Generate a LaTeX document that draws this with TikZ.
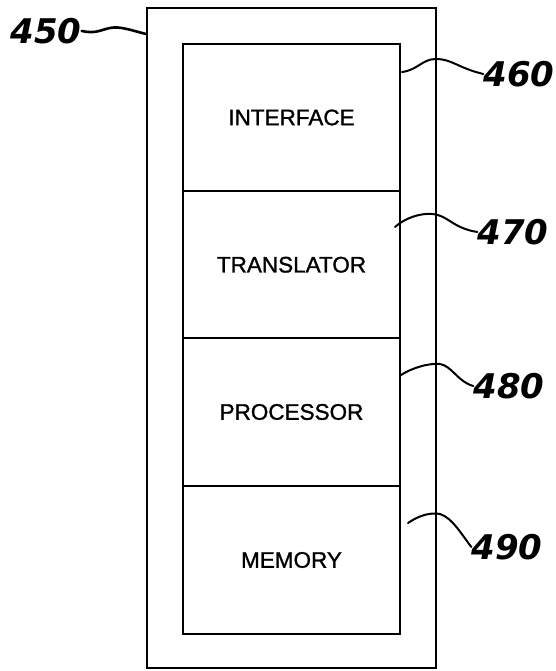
\documentclass[tikz,border=0pt]{standalone}
\usepackage{fontspec}
\setmainfont{Liberation Sans}
\newfontfamily\boxfont[FakeBold=1.2]{Liberation Sans}
\newfontfamily\handfont{DejaVu Sans}
\begin{document}
\begin{tikzpicture}[x=1pt,y=-1pt,
  boxline/.style={draw,line width=1.8pt,inner sep=0pt},
  part/.style={boxline,minimum width=217pt,minimum height=147.5pt,font=\boxfont\fontsize{22.5}{26}\selectfont},
  refnum/.style={font=\handfont\bfseries\itshape\fontsize{34}{38}\selectfont,inner sep=0pt},
  lead/.style={line width=2pt,line cap=round}]
\useasboundingbox (0,0) rectangle (556,671);
\node[boxline,minimum width=289pt,minimum height=660pt] (outer) at (291.5,338) {};
\node[part] (iface) at (291.5,117.5) {INTERFACE};
\node[part] (trans) at (291.5,264.75) {TRANSLATOR};
\node[part] (proc) at (291.5,412) {PROCESSOR};
\node[part] (mem) at (291.5,560) {MEMORY};
\node[refnum] (l450) at (46,31) {450};
\node[refnum] (l460) at (519,74) {460};
\node[refnum] (l470) at (513,232) {470};
\node[refnum] (l480) at (509,386) {480};
\node[refnum] (l490) at (507,547) {490};
\coordinate (s450) at (outer.west |- 0,34);
\coordinate (s460) at (402,72);
\coordinate (s470) at (395,227);
\coordinate (s480) at (401,375);
\coordinate (s490) at (408,523);
\draw[lead,line width=2.6pt] (s450) .. controls (130,30) and (120,26) .. (110,28) .. controls (100,30) and (96,34) .. (l450.east);
\draw[lead] (s460) .. controls (418,70) and (422,59) .. (436,59) .. controls (452,59) and (458,68) .. (l460.west);
\draw[lead] (s470) .. controls (405,218) and (420,213) .. (432,214) .. controls (448,215) and (452,228) .. (l470.west);
\draw[lead] (s480) .. controls (412,368) and (428,363) .. (440,364) .. controls (452,366) and (458,382) .. (l480.west);
\draw[lead] (s490) .. controls (418,516) and (430,512) .. (440,514) .. controls (452,518) and (460,532) .. (l490.west);
\end{tikzpicture}
\end{document}
